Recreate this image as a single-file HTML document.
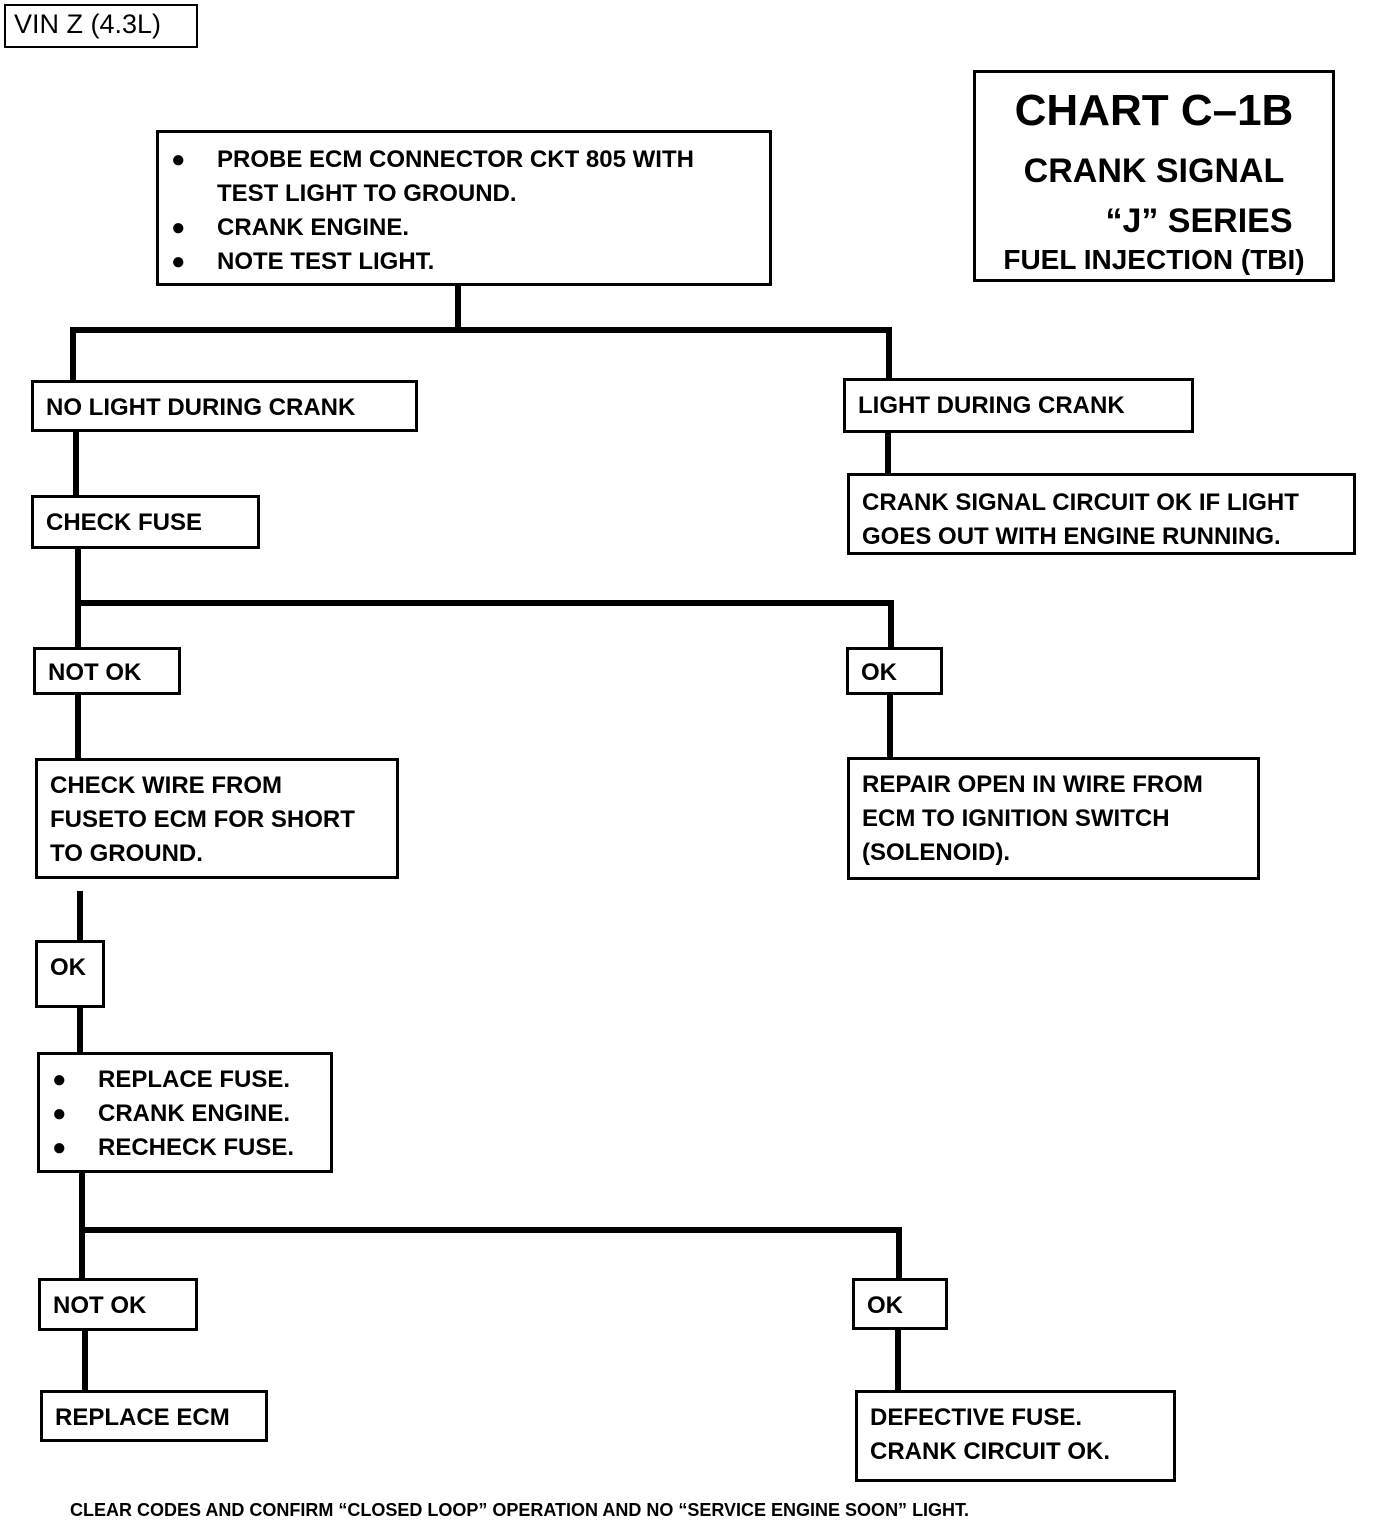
<!DOCTYPE html>
<html><head><meta charset="utf-8"><style>
body{margin:0;width:1392px;height:1524px;background:#fff;position:relative;overflow:hidden;font-family:"Liberation Sans",sans-serif;}
.b{position:absolute;border:3px solid #000;box-sizing:border-box;font-weight:bold;font-size:24px;line-height:34px;color:#000;padding:8px 0 0 12px;white-space:nowrap;}
.l{position:absolute;background:#000;}
.bul{display:inline-block;width:46px;}
</style></head><body>
<div class="b" style="left:4px;top:4px;width:194px;height:44px;border-width:2px;font-weight:normal;font-size:27px;line-height:30px;padding:3px 0 0 8px;">VIN Z (4.3L)</div>
<div class="b" style="left:973px;top:70px;width:362px;height:212px;text-align:center;padding:8px 0 0 0;">
<div style="font-size:44px;line-height:60px;">CHART C–1B</div>
<div style="font-size:34px;line-height:60px;">CRANK SIGNAL</div>
<div style="font-size:34px;line-height:40px;padding-left:90px;">“J” SERIES</div>
<div style="font-size:28px;line-height:38px;">FUEL INJECTION (TBI)</div>
</div>
<div class="b" style="left:156px;top:130px;width:616px;height:156px;padding:10px 0 0 12px;">
<span class="bul">●</span>PROBE ECM CONNECTOR CKT 805 WITH<br><span class="bul"></span>TEST LIGHT TO GROUND.<br><span class="bul">●</span>CRANK ENGINE.<br><span class="bul">●</span>NOTE TEST LIGHT.</div>
<div class="l" style="left:455px;top:285px;width:6px;height:48px"></div>
<div class="l" style="left:70px;top:327px;width:822px;height:6px"></div>
<div class="l" style="left:70px;top:327px;width:6px;height:54px"></div>
<div class="l" style="left:886px;top:327px;width:6px;height:52px"></div>
<div class="b" style="left:31px;top:380px;width:387px;height:52px;">NO LIGHT DURING CRANK</div>
<div class="b" style="left:843px;top:378px;width:351px;height:55px;">LIGHT DURING CRANK</div>
<div class="l" style="left:885px;top:432px;width:6px;height:42px"></div>
<div class="b" style="left:847px;top:473px;width:509px;height:82px;padding-top:10px;">CRANK SIGNAL CIRCUIT OK IF LIGHT<br>GOES OUT WITH ENGINE RUNNING.</div>
<div class="l" style="left:73px;top:431px;width:6px;height:65px"></div>
<div class="b" style="left:31px;top:495px;width:229px;height:54px;">CHECK FUSE</div>
<div class="l" style="left:75px;top:548px;width:6px;height:100px"></div>
<div class="l" style="left:75px;top:600px;width:819px;height:6px"></div>
<div class="l" style="left:888px;top:600px;width:6px;height:48px"></div>
<div class="b" style="left:33px;top:647px;width:148px;height:48px;padding-top:6px;">NOT OK</div>
<div class="b" style="left:846px;top:647px;width:97px;height:48px;padding-top:6px;">OK</div>
<div class="l" style="left:75px;top:694px;width:6px;height:65px"></div>
<div class="b" style="left:35px;top:758px;width:364px;height:121px;">CHECK WIRE FROM<br>FUSETO ECM FOR SHORT<br>TO GROUND.</div>
<div class="l" style="left:887px;top:694px;width:6px;height:64px"></div>
<div class="b" style="left:847px;top:757px;width:413px;height:123px;">REPAIR OPEN IN WIRE FROM<br>ECM TO IGNITION SWITCH<br>(SOLENOID).</div>
<div class="l" style="left:77px;top:891px;width:6px;height:50px"></div>
<div class="b" style="left:35px;top:940px;width:70px;height:68px;padding-top:8px;">OK</div>
<div class="l" style="left:77px;top:1007px;width:6px;height:46px"></div>
<div class="b" style="left:37px;top:1052px;width:296px;height:121px;">
<span class="bul">●</span>REPLACE FUSE.<br><span class="bul">●</span>CRANK ENGINE.<br><span class="bul">●</span>RECHECK FUSE.</div>
<div class="l" style="left:79px;top:1172px;width:6px;height:107px"></div>
<div class="l" style="left:79px;top:1227px;width:823px;height:6px"></div>
<div class="l" style="left:896px;top:1227px;width:6px;height:52px"></div>
<div class="b" style="left:38px;top:1278px;width:160px;height:53px;">NOT OK</div>
<div class="b" style="left:852px;top:1278px;width:96px;height:52px;">OK</div>
<div class="l" style="left:82px;top:1330px;width:6px;height:61px"></div>
<div class="b" style="left:40px;top:1390px;width:228px;height:52px;">REPLACE ECM</div>
<div class="l" style="left:895px;top:1329px;width:6px;height:62px"></div>
<div class="b" style="left:855px;top:1390px;width:321px;height:92px;">DEFECTIVE FUSE.<br>CRANK CIRCUIT OK.</div>
<div style="position:absolute;left:70px;top:1500px;font-weight:bold;font-size:18px;white-space:nowrap;">CLEAR CODES AND CONFIRM “CLOSED LOOP” OPERATION AND NO “SERVICE ENGINE SOON” LIGHT.</div>
</body></html>
